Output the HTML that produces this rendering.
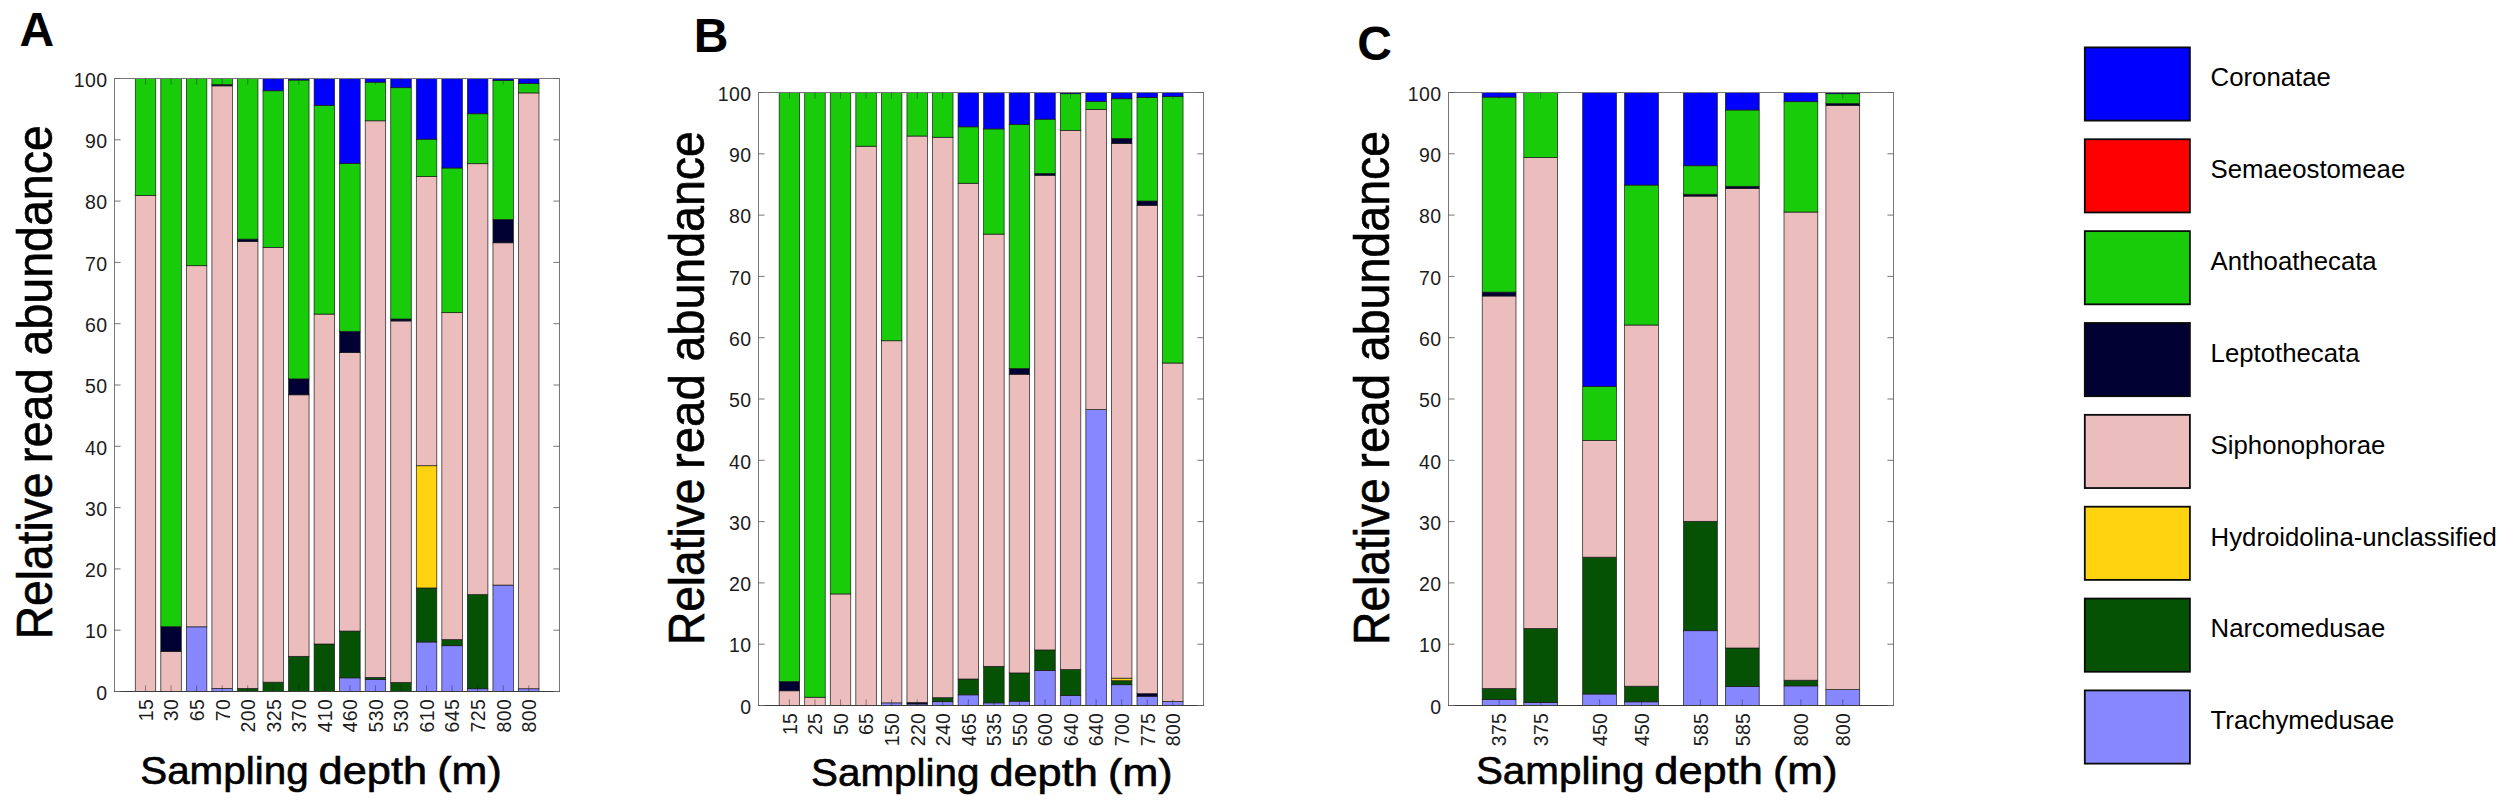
<!DOCTYPE html>
<html lang="en"><head><meta charset="utf-8"><title>Relative read abundance by sampling depth</title>
<style>html,body{margin:0;padding:0;background:#fff}body{width:2500px;height:801px;overflow:hidden}svg{display:block}text{font-family:"Liberation Sans", Arial, Helvetica, sans-serif}</style>
</head><body>
<svg width="2500" height="801" viewBox="0 0 2500 801">
<rect width="2500" height="801" fill="#fff"/>
<g>
<rect x="135.25" y="195.34" width="20.50" height="496.16" fill="#ecbdbd" stroke="#1a1a1a" stroke-width="0.7"/>
<rect x="135.25" y="78.50" width="20.50" height="116.84" fill="#19cc0a" stroke="#1a1a1a" stroke-width="0.7"/>
<rect x="160.80" y="651.41" width="20.50" height="40.09" fill="#ecbdbd" stroke="#1a1a1a" stroke-width="0.7"/>
<rect x="160.80" y="626.71" width="20.50" height="24.70" fill="#000033" stroke="#1a1a1a" stroke-width="0.7"/>
<rect x="160.80" y="78.50" width="20.50" height="548.21" fill="#19cc0a" stroke="#1a1a1a" stroke-width="0.7"/>
<rect x="186.35" y="626.83" width="20.50" height="64.67" fill="#8787ff" stroke="#1a1a1a" stroke-width="0.7"/>
<rect x="186.35" y="265.71" width="20.50" height="361.12" fill="#ecbdbd" stroke="#1a1a1a" stroke-width="0.7"/>
<rect x="186.35" y="78.50" width="20.50" height="187.21" fill="#19cc0a" stroke="#1a1a1a" stroke-width="0.7"/>
<rect x="211.90" y="688.50" width="20.50" height="3.00" fill="#8787ff" stroke="#1a1a1a" stroke-width="0.7"/>
<rect x="211.90" y="85.86" width="20.50" height="602.64" fill="#ecbdbd" stroke="#1a1a1a" stroke-width="0.7"/>
<rect x="211.90" y="84.63" width="20.50" height="1.23" fill="#000033" stroke="#1a1a1a" stroke-width="0.7"/>
<rect x="211.90" y="78.50" width="20.50" height="6.13" fill="#19cc0a" stroke="#1a1a1a" stroke-width="0.7"/>
<rect x="237.45" y="688.43" width="20.50" height="3.06" fill="#055205" stroke="#1a1a1a" stroke-width="0.7"/>
<rect x="237.45" y="241.56" width="20.50" height="446.88" fill="#ecbdbd" stroke="#1a1a1a" stroke-width="0.7"/>
<rect x="237.45" y="239.11" width="20.50" height="2.45" fill="#000033" stroke="#1a1a1a" stroke-width="0.7"/>
<rect x="237.45" y="78.50" width="20.50" height="160.61" fill="#19cc0a" stroke="#1a1a1a" stroke-width="0.7"/>
<rect x="263.00" y="682.18" width="20.50" height="9.32" fill="#055205" stroke="#1a1a1a" stroke-width="0.7"/>
<rect x="263.00" y="247.32" width="20.50" height="434.86" fill="#ecbdbd" stroke="#1a1a1a" stroke-width="0.7"/>
<rect x="263.00" y="90.76" width="20.50" height="156.56" fill="#19cc0a" stroke="#1a1a1a" stroke-width="0.7"/>
<rect x="263.00" y="78.50" width="20.50" height="12.26" fill="#0000ff" stroke="#1a1a1a" stroke-width="0.7"/>
<rect x="288.55" y="656.31" width="20.50" height="35.19" fill="#055205" stroke="#1a1a1a" stroke-width="0.7"/>
<rect x="288.55" y="394.81" width="20.50" height="261.51" fill="#ecbdbd" stroke="#1a1a1a" stroke-width="0.7"/>
<rect x="288.55" y="378.87" width="20.50" height="15.94" fill="#000033" stroke="#1a1a1a" stroke-width="0.7"/>
<rect x="288.55" y="80.03" width="20.50" height="298.84" fill="#19cc0a" stroke="#1a1a1a" stroke-width="0.7"/>
<rect x="288.55" y="78.50" width="20.50" height="1.53" fill="#0000ff" stroke="#1a1a1a" stroke-width="0.7"/>
<rect x="314.10" y="643.99" width="20.50" height="47.51" fill="#055205" stroke="#1a1a1a" stroke-width="0.7"/>
<rect x="314.10" y="314.08" width="20.50" height="329.92" fill="#ecbdbd" stroke="#1a1a1a" stroke-width="0.7"/>
<rect x="314.10" y="105.47" width="20.50" height="208.60" fill="#19cc0a" stroke="#1a1a1a" stroke-width="0.7"/>
<rect x="314.10" y="78.50" width="20.50" height="26.97" fill="#0000ff" stroke="#1a1a1a" stroke-width="0.7"/>
<rect x="339.65" y="677.83" width="20.50" height="13.67" fill="#8787ff" stroke="#1a1a1a" stroke-width="0.7"/>
<rect x="339.65" y="631.06" width="20.50" height="46.77" fill="#055205" stroke="#1a1a1a" stroke-width="0.7"/>
<rect x="339.65" y="352.57" width="20.50" height="278.49" fill="#ecbdbd" stroke="#1a1a1a" stroke-width="0.7"/>
<rect x="339.65" y="331.30" width="20.50" height="21.27" fill="#000033" stroke="#1a1a1a" stroke-width="0.7"/>
<rect x="339.65" y="163.40" width="20.50" height="167.90" fill="#19cc0a" stroke="#1a1a1a" stroke-width="0.7"/>
<rect x="339.65" y="78.50" width="20.50" height="84.90" fill="#0000ff" stroke="#1a1a1a" stroke-width="0.7"/>
<rect x="365.20" y="679.30" width="20.50" height="12.20" fill="#8787ff" stroke="#1a1a1a" stroke-width="0.7"/>
<rect x="365.20" y="677.40" width="20.50" height="1.90" fill="#055205" stroke="#1a1a1a" stroke-width="0.7"/>
<rect x="365.20" y="120.80" width="20.50" height="556.60" fill="#ecbdbd" stroke="#1a1a1a" stroke-width="0.7"/>
<rect x="365.20" y="82.18" width="20.50" height="38.62" fill="#19cc0a" stroke="#1a1a1a" stroke-width="0.7"/>
<rect x="365.20" y="78.50" width="20.50" height="3.68" fill="#0000ff" stroke="#1a1a1a" stroke-width="0.7"/>
<rect x="390.75" y="682.43" width="20.50" height="9.07" fill="#055205" stroke="#1a1a1a" stroke-width="0.7"/>
<rect x="390.75" y="320.94" width="20.50" height="361.49" fill="#ecbdbd" stroke="#1a1a1a" stroke-width="0.7"/>
<rect x="390.75" y="318.98" width="20.50" height="1.96" fill="#000033" stroke="#1a1a1a" stroke-width="0.7"/>
<rect x="390.75" y="87.70" width="20.50" height="231.28" fill="#19cc0a" stroke="#1a1a1a" stroke-width="0.7"/>
<rect x="390.75" y="78.50" width="20.50" height="9.20" fill="#0000ff" stroke="#1a1a1a" stroke-width="0.7"/>
<rect x="416.30" y="641.97" width="20.50" height="49.53" fill="#8787ff" stroke="#1a1a1a" stroke-width="0.7"/>
<rect x="416.30" y="587.96" width="20.50" height="54.01" fill="#055205" stroke="#1a1a1a" stroke-width="0.7"/>
<rect x="416.30" y="465.73" width="20.50" height="122.23" fill="#ffd30f" stroke="#1a1a1a" stroke-width="0.7"/>
<rect x="416.30" y="176.58" width="20.50" height="289.15" fill="#ecbdbd" stroke="#1a1a1a" stroke-width="0.7"/>
<rect x="416.30" y="139.19" width="20.50" height="37.39" fill="#19cc0a" stroke="#1a1a1a" stroke-width="0.7"/>
<rect x="416.30" y="78.50" width="20.50" height="60.69" fill="#0000ff" stroke="#1a1a1a" stroke-width="0.7"/>
<rect x="441.85" y="645.71" width="20.50" height="45.79" fill="#8787ff" stroke="#1a1a1a" stroke-width="0.7"/>
<rect x="441.85" y="639.64" width="20.50" height="6.07" fill="#055205" stroke="#1a1a1a" stroke-width="0.7"/>
<rect x="441.85" y="312.67" width="20.50" height="326.97" fill="#ecbdbd" stroke="#1a1a1a" stroke-width="0.7"/>
<rect x="441.85" y="168.00" width="20.50" height="144.67" fill="#19cc0a" stroke="#1a1a1a" stroke-width="0.7"/>
<rect x="441.85" y="78.50" width="20.50" height="89.50" fill="#0000ff" stroke="#1a1a1a" stroke-width="0.7"/>
<rect x="467.40" y="688.74" width="20.50" height="2.76" fill="#8787ff" stroke="#1a1a1a" stroke-width="0.7"/>
<rect x="467.40" y="594.58" width="20.50" height="94.16" fill="#055205" stroke="#1a1a1a" stroke-width="0.7"/>
<rect x="467.40" y="163.71" width="20.50" height="430.88" fill="#ecbdbd" stroke="#1a1a1a" stroke-width="0.7"/>
<rect x="467.40" y="113.75" width="20.50" height="49.96" fill="#19cc0a" stroke="#1a1a1a" stroke-width="0.7"/>
<rect x="467.40" y="78.50" width="20.50" height="35.25" fill="#0000ff" stroke="#1a1a1a" stroke-width="0.7"/>
<rect x="492.95" y="585.08" width="20.50" height="106.42" fill="#8787ff" stroke="#1a1a1a" stroke-width="0.7"/>
<rect x="492.95" y="242.78" width="20.50" height="342.30" fill="#ecbdbd" stroke="#1a1a1a" stroke-width="0.7"/>
<rect x="492.95" y="219.49" width="20.50" height="23.29" fill="#000033" stroke="#1a1a1a" stroke-width="0.7"/>
<rect x="492.95" y="80.34" width="20.50" height="139.15" fill="#19cc0a" stroke="#1a1a1a" stroke-width="0.7"/>
<rect x="492.95" y="78.50" width="20.50" height="1.84" fill="#0000ff" stroke="#1a1a1a" stroke-width="0.7"/>
<rect x="518.50" y="688.74" width="20.50" height="2.76" fill="#8787ff" stroke="#1a1a1a" stroke-width="0.7"/>
<rect x="518.50" y="92.91" width="20.50" height="595.84" fill="#ecbdbd" stroke="#1a1a1a" stroke-width="0.7"/>
<rect x="518.50" y="83.40" width="20.50" height="9.50" fill="#19cc0a" stroke="#1a1a1a" stroke-width="0.7"/>
<rect x="518.50" y="78.50" width="20.50" height="4.90" fill="#0000ff" stroke="#1a1a1a" stroke-width="0.7"/>
<rect x="114.50" y="78.50" width="445.00" height="613.00" fill="none" stroke="#777" stroke-width="1"/>
<path d="M114.00 691.50H560.00" stroke="#3c3c3c" stroke-width="1.1" fill="none"/>
<path d="M114.50 691.50h6.1M559.50 691.50h-6.1" stroke="#666" stroke-width="0.9" fill="none"/>
<text x="107.60" y="699.70" text-anchor="end" font-size="19.5" letter-spacing="0.4" fill="#1c1c1c">0</text>
<path d="M114.50 630.20h6.1M559.50 630.20h-6.1" stroke="#666" stroke-width="0.9" fill="none"/>
<text x="107.60" y="638.40" text-anchor="end" font-size="19.5" letter-spacing="0.4" fill="#1c1c1c">10</text>
<path d="M114.50 568.90h6.1M559.50 568.90h-6.1" stroke="#666" stroke-width="0.9" fill="none"/>
<text x="107.60" y="577.10" text-anchor="end" font-size="19.5" letter-spacing="0.4" fill="#1c1c1c">20</text>
<path d="M114.50 507.60h6.1M559.50 507.60h-6.1" stroke="#666" stroke-width="0.9" fill="none"/>
<text x="107.60" y="515.80" text-anchor="end" font-size="19.5" letter-spacing="0.4" fill="#1c1c1c">30</text>
<path d="M114.50 446.30h6.1M559.50 446.30h-6.1" stroke="#666" stroke-width="0.9" fill="none"/>
<text x="107.60" y="454.50" text-anchor="end" font-size="19.5" letter-spacing="0.4" fill="#1c1c1c">40</text>
<path d="M114.50 385.00h6.1M559.50 385.00h-6.1" stroke="#666" stroke-width="0.9" fill="none"/>
<text x="107.60" y="393.20" text-anchor="end" font-size="19.5" letter-spacing="0.4" fill="#1c1c1c">50</text>
<path d="M114.50 323.70h6.1M559.50 323.70h-6.1" stroke="#666" stroke-width="0.9" fill="none"/>
<text x="107.60" y="331.90" text-anchor="end" font-size="19.5" letter-spacing="0.4" fill="#1c1c1c">60</text>
<path d="M114.50 262.40h6.1M559.50 262.40h-6.1" stroke="#666" stroke-width="0.9" fill="none"/>
<text x="107.60" y="270.60" text-anchor="end" font-size="19.5" letter-spacing="0.4" fill="#1c1c1c">70</text>
<path d="M114.50 201.10h6.1M559.50 201.10h-6.1" stroke="#666" stroke-width="0.9" fill="none"/>
<text x="107.60" y="209.30" text-anchor="end" font-size="19.5" letter-spacing="0.4" fill="#1c1c1c">80</text>
<path d="M114.50 139.80h6.1M559.50 139.80h-6.1" stroke="#666" stroke-width="0.9" fill="none"/>
<text x="107.60" y="148.00" text-anchor="end" font-size="19.5" letter-spacing="0.4" fill="#1c1c1c">90</text>
<path d="M114.50 78.50h6.1M559.50 78.50h-6.1" stroke="#666" stroke-width="0.9" fill="none"/>
<text x="107.60" y="86.70" text-anchor="end" font-size="19.5" letter-spacing="0.4" fill="#1c1c1c">100</text>
<path d="M145.50 691.50v-6.1M145.50 78.50v6.1" stroke="#222" stroke-width="1" stroke-opacity="0.45" fill="none"/>
<text transform="translate(152.85 698.80) rotate(-90)" text-anchor="end" font-size="19.5" letter-spacing="0.35" fill="#1c1c1c">15</text>
<path d="M171.05 691.50v-6.1M171.05 78.50v6.1" stroke="#222" stroke-width="1" stroke-opacity="0.45" fill="none"/>
<text transform="translate(178.40 698.80) rotate(-90)" text-anchor="end" font-size="19.5" letter-spacing="0.35" fill="#1c1c1c">30</text>
<path d="M196.60 691.50v-6.1M196.60 78.50v6.1" stroke="#222" stroke-width="1" stroke-opacity="0.45" fill="none"/>
<text transform="translate(203.95 698.80) rotate(-90)" text-anchor="end" font-size="19.5" letter-spacing="0.35" fill="#1c1c1c">65</text>
<path d="M222.15 691.50v-6.1M222.15 78.50v6.1" stroke="#222" stroke-width="1" stroke-opacity="0.45" fill="none"/>
<text transform="translate(229.50 698.80) rotate(-90)" text-anchor="end" font-size="19.5" letter-spacing="0.35" fill="#1c1c1c">70</text>
<path d="M247.70 691.50v-6.1M247.70 78.50v6.1" stroke="#222" stroke-width="1" stroke-opacity="0.45" fill="none"/>
<text transform="translate(255.05 698.80) rotate(-90)" text-anchor="end" font-size="19.5" letter-spacing="0.35" fill="#1c1c1c">200</text>
<path d="M273.25 691.50v-6.1M273.25 78.50v6.1" stroke="#222" stroke-width="1" stroke-opacity="0.45" fill="none"/>
<text transform="translate(280.60 698.80) rotate(-90)" text-anchor="end" font-size="19.5" letter-spacing="0.35" fill="#1c1c1c">325</text>
<path d="M298.80 691.50v-6.1M298.80 78.50v6.1" stroke="#222" stroke-width="1" stroke-opacity="0.45" fill="none"/>
<text transform="translate(306.15 698.80) rotate(-90)" text-anchor="end" font-size="19.5" letter-spacing="0.35" fill="#1c1c1c">370</text>
<path d="M324.35 691.50v-6.1M324.35 78.50v6.1" stroke="#222" stroke-width="1" stroke-opacity="0.45" fill="none"/>
<text transform="translate(331.70 698.80) rotate(-90)" text-anchor="end" font-size="19.5" letter-spacing="0.35" fill="#1c1c1c">410</text>
<path d="M349.90 691.50v-6.1M349.90 78.50v6.1" stroke="#222" stroke-width="1" stroke-opacity="0.45" fill="none"/>
<text transform="translate(357.25 698.80) rotate(-90)" text-anchor="end" font-size="19.5" letter-spacing="0.35" fill="#1c1c1c">460</text>
<path d="M375.45 691.50v-6.1M375.45 78.50v6.1" stroke="#222" stroke-width="1" stroke-opacity="0.45" fill="none"/>
<text transform="translate(382.80 698.80) rotate(-90)" text-anchor="end" font-size="19.5" letter-spacing="0.35" fill="#1c1c1c">530</text>
<path d="M401.00 691.50v-6.1M401.00 78.50v6.1" stroke="#222" stroke-width="1" stroke-opacity="0.45" fill="none"/>
<text transform="translate(408.35 698.80) rotate(-90)" text-anchor="end" font-size="19.5" letter-spacing="0.35" fill="#1c1c1c">530</text>
<path d="M426.55 691.50v-6.1M426.55 78.50v6.1" stroke="#222" stroke-width="1" stroke-opacity="0.45" fill="none"/>
<text transform="translate(433.90 698.80) rotate(-90)" text-anchor="end" font-size="19.5" letter-spacing="0.35" fill="#1c1c1c">610</text>
<path d="M452.10 691.50v-6.1M452.10 78.50v6.1" stroke="#222" stroke-width="1" stroke-opacity="0.45" fill="none"/>
<text transform="translate(459.45 698.80) rotate(-90)" text-anchor="end" font-size="19.5" letter-spacing="0.35" fill="#1c1c1c">645</text>
<path d="M477.65 691.50v-6.1M477.65 78.50v6.1" stroke="#222" stroke-width="1" stroke-opacity="0.45" fill="none"/>
<text transform="translate(485.00 698.80) rotate(-90)" text-anchor="end" font-size="19.5" letter-spacing="0.35" fill="#1c1c1c">725</text>
<path d="M503.20 691.50v-6.1M503.20 78.50v6.1" stroke="#222" stroke-width="1" stroke-opacity="0.45" fill="none"/>
<text transform="translate(510.55 698.80) rotate(-90)" text-anchor="end" font-size="19.5" letter-spacing="0.35" fill="#1c1c1c">800</text>
<path d="M528.75 691.50v-6.1M528.75 78.50v6.1" stroke="#222" stroke-width="1" stroke-opacity="0.45" fill="none"/>
<text transform="translate(536.10 698.80) rotate(-90)" text-anchor="end" font-size="19.5" letter-spacing="0.35" fill="#1c1c1c">800</text>
<text x="19.4" y="46.4" font-size="48" font-weight="bold" fill="#000">A</text>
<text transform="translate(51.6 0) rotate(-90)" font-size="49.5" fill="#000" stroke="#000" stroke-width="0.6" xml:space="preserve"><tspan x="-639.2" y="0" textLength="166.6" lengthAdjust="spacingAndGlyphs">Relative</tspan> <tspan x="-463.2" y="0" textLength="95.0" lengthAdjust="spacingAndGlyphs">read</tspan> <tspan x="-355.5" y="0" textLength="230.4" lengthAdjust="spacingAndGlyphs">abundance</tspan></text>
<text font-size="38.5" fill="#000" stroke="#000" stroke-width="0.6" xml:space="preserve"><tspan x="140.2" y="784" textLength="168.5" lengthAdjust="spacingAndGlyphs">Sampling</tspan> <tspan x="318.6" y="784" textLength="108.5" lengthAdjust="spacingAndGlyphs">depth</tspan> <tspan x="437.3" y="784" textLength="64.5" lengthAdjust="spacingAndGlyphs">(m)</tspan></text>
</g>
<g>
<rect x="779.15" y="690.79" width="20.50" height="14.71" fill="#ecbdbd" stroke="#1a1a1a" stroke-width="0.7"/>
<rect x="779.15" y="681.59" width="20.50" height="9.20" fill="#000033" stroke="#1a1a1a" stroke-width="0.7"/>
<rect x="779.15" y="92.50" width="20.50" height="589.09" fill="#19cc0a" stroke="#1a1a1a" stroke-width="0.7"/>
<rect x="804.71" y="697.22" width="20.50" height="8.28" fill="#ecbdbd" stroke="#1a1a1a" stroke-width="0.7"/>
<rect x="804.71" y="92.50" width="20.50" height="604.72" fill="#19cc0a" stroke="#1a1a1a" stroke-width="0.7"/>
<rect x="830.27" y="593.93" width="20.50" height="111.57" fill="#ecbdbd" stroke="#1a1a1a" stroke-width="0.7"/>
<rect x="830.27" y="92.50" width="20.50" height="501.43" fill="#19cc0a" stroke="#1a1a1a" stroke-width="0.7"/>
<rect x="855.83" y="146.20" width="20.50" height="559.30" fill="#ecbdbd" stroke="#1a1a1a" stroke-width="0.7"/>
<rect x="855.83" y="92.50" width="20.50" height="53.70" fill="#19cc0a" stroke="#1a1a1a" stroke-width="0.7"/>
<rect x="881.39" y="702.86" width="20.50" height="2.64" fill="#8787ff" stroke="#1a1a1a" stroke-width="0.7"/>
<rect x="881.39" y="340.76" width="20.50" height="362.10" fill="#ecbdbd" stroke="#1a1a1a" stroke-width="0.7"/>
<rect x="881.39" y="92.50" width="20.50" height="248.26" fill="#19cc0a" stroke="#1a1a1a" stroke-width="0.7"/>
<rect x="906.95" y="703.97" width="20.50" height="1.53" fill="#8787ff" stroke="#1a1a1a" stroke-width="0.7"/>
<rect x="906.95" y="702.43" width="20.50" height="1.53" fill="#000033" stroke="#1a1a1a" stroke-width="0.7"/>
<rect x="906.95" y="136.02" width="20.50" height="566.41" fill="#ecbdbd" stroke="#1a1a1a" stroke-width="0.7"/>
<rect x="906.95" y="92.50" width="20.50" height="43.52" fill="#19cc0a" stroke="#1a1a1a" stroke-width="0.7"/>
<rect x="932.51" y="701.70" width="20.50" height="3.80" fill="#8787ff" stroke="#1a1a1a" stroke-width="0.7"/>
<rect x="932.51" y="697.71" width="20.50" height="3.98" fill="#055205" stroke="#1a1a1a" stroke-width="0.7"/>
<rect x="932.51" y="137.25" width="20.50" height="560.47" fill="#ecbdbd" stroke="#1a1a1a" stroke-width="0.7"/>
<rect x="932.51" y="92.50" width="20.50" height="44.75" fill="#19cc0a" stroke="#1a1a1a" stroke-width="0.7"/>
<rect x="958.07" y="694.83" width="20.50" height="10.67" fill="#8787ff" stroke="#1a1a1a" stroke-width="0.7"/>
<rect x="958.07" y="679.02" width="20.50" height="15.82" fill="#055205" stroke="#1a1a1a" stroke-width="0.7"/>
<rect x="958.07" y="183.22" width="20.50" height="495.79" fill="#ecbdbd" stroke="#1a1a1a" stroke-width="0.7"/>
<rect x="958.07" y="126.83" width="20.50" height="56.40" fill="#19cc0a" stroke="#1a1a1a" stroke-width="0.7"/>
<rect x="958.07" y="92.50" width="20.50" height="34.33" fill="#0000ff" stroke="#1a1a1a" stroke-width="0.7"/>
<rect x="983.63" y="702.86" width="20.50" height="2.64" fill="#8787ff" stroke="#1a1a1a" stroke-width="0.7"/>
<rect x="983.63" y="666.33" width="20.50" height="36.53" fill="#055205" stroke="#1a1a1a" stroke-width="0.7"/>
<rect x="983.63" y="234.10" width="20.50" height="432.23" fill="#ecbdbd" stroke="#1a1a1a" stroke-width="0.7"/>
<rect x="983.63" y="128.91" width="20.50" height="105.19" fill="#19cc0a" stroke="#1a1a1a" stroke-width="0.7"/>
<rect x="983.63" y="92.50" width="20.50" height="36.41" fill="#0000ff" stroke="#1a1a1a" stroke-width="0.7"/>
<rect x="1009.19" y="701.15" width="20.50" height="4.35" fill="#8787ff" stroke="#1a1a1a" stroke-width="0.7"/>
<rect x="1009.19" y="672.95" width="20.50" height="28.20" fill="#055205" stroke="#1a1a1a" stroke-width="0.7"/>
<rect x="1009.19" y="374.23" width="20.50" height="298.71" fill="#ecbdbd" stroke="#1a1a1a" stroke-width="0.7"/>
<rect x="1009.19" y="368.47" width="20.50" height="5.76" fill="#000033" stroke="#1a1a1a" stroke-width="0.7"/>
<rect x="1009.19" y="124.38" width="20.50" height="244.10" fill="#19cc0a" stroke="#1a1a1a" stroke-width="0.7"/>
<rect x="1009.19" y="92.50" width="20.50" height="31.88" fill="#0000ff" stroke="#1a1a1a" stroke-width="0.7"/>
<rect x="1034.75" y="670.38" width="20.50" height="35.12" fill="#8787ff" stroke="#1a1a1a" stroke-width="0.7"/>
<rect x="1034.75" y="649.96" width="20.50" height="20.41" fill="#055205" stroke="#1a1a1a" stroke-width="0.7"/>
<rect x="1034.75" y="175.25" width="20.50" height="474.71" fill="#ecbdbd" stroke="#1a1a1a" stroke-width="0.7"/>
<rect x="1034.75" y="173.42" width="20.50" height="1.84" fill="#000033" stroke="#1a1a1a" stroke-width="0.7"/>
<rect x="1034.75" y="119.17" width="20.50" height="54.25" fill="#19cc0a" stroke="#1a1a1a" stroke-width="0.7"/>
<rect x="1034.75" y="92.50" width="20.50" height="26.67" fill="#0000ff" stroke="#1a1a1a" stroke-width="0.7"/>
<rect x="1060.31" y="695.39" width="20.50" height="10.11" fill="#8787ff" stroke="#1a1a1a" stroke-width="0.7"/>
<rect x="1060.31" y="669.52" width="20.50" height="25.87" fill="#055205" stroke="#1a1a1a" stroke-width="0.7"/>
<rect x="1060.31" y="130.51" width="20.50" height="539.01" fill="#ecbdbd" stroke="#1a1a1a" stroke-width="0.7"/>
<rect x="1060.31" y="93.73" width="20.50" height="36.78" fill="#19cc0a" stroke="#1a1a1a" stroke-width="0.7"/>
<rect x="1060.31" y="92.50" width="20.50" height="1.23" fill="#0000ff" stroke="#1a1a1a" stroke-width="0.7"/>
<rect x="1085.87" y="409.60" width="20.50" height="295.90" fill="#8787ff" stroke="#1a1a1a" stroke-width="0.7"/>
<rect x="1085.87" y="109.42" width="20.50" height="300.19" fill="#ecbdbd" stroke="#1a1a1a" stroke-width="0.7"/>
<rect x="1085.87" y="101.39" width="20.50" height="8.03" fill="#19cc0a" stroke="#1a1a1a" stroke-width="0.7"/>
<rect x="1085.87" y="92.50" width="20.50" height="8.89" fill="#0000ff" stroke="#1a1a1a" stroke-width="0.7"/>
<rect x="1111.43" y="684.72" width="20.50" height="20.78" fill="#8787ff" stroke="#1a1a1a" stroke-width="0.7"/>
<rect x="1111.43" y="680.73" width="20.50" height="3.98" fill="#055205" stroke="#1a1a1a" stroke-width="0.7"/>
<rect x="1111.43" y="678.16" width="20.50" height="2.57" fill="#ffd30f" stroke="#1a1a1a" stroke-width="0.7"/>
<rect x="1111.43" y="143.38" width="20.50" height="534.78" fill="#ecbdbd" stroke="#1a1a1a" stroke-width="0.7"/>
<rect x="1111.43" y="138.48" width="20.50" height="4.90" fill="#000033" stroke="#1a1a1a" stroke-width="0.7"/>
<rect x="1111.43" y="98.75" width="20.50" height="39.72" fill="#19cc0a" stroke="#1a1a1a" stroke-width="0.7"/>
<rect x="1111.43" y="92.50" width="20.50" height="6.25" fill="#0000ff" stroke="#1a1a1a" stroke-width="0.7"/>
<rect x="1136.99" y="696.24" width="20.50" height="9.26" fill="#8787ff" stroke="#1a1a1a" stroke-width="0.7"/>
<rect x="1136.99" y="693.67" width="20.50" height="2.57" fill="#000033" stroke="#1a1a1a" stroke-width="0.7"/>
<rect x="1136.99" y="205.29" width="20.50" height="488.38" fill="#ecbdbd" stroke="#1a1a1a" stroke-width="0.7"/>
<rect x="1136.99" y="201.00" width="20.50" height="4.29" fill="#000033" stroke="#1a1a1a" stroke-width="0.7"/>
<rect x="1136.99" y="97.40" width="20.50" height="103.60" fill="#19cc0a" stroke="#1a1a1a" stroke-width="0.7"/>
<rect x="1136.99" y="92.50" width="20.50" height="4.90" fill="#0000ff" stroke="#1a1a1a" stroke-width="0.7"/>
<rect x="1162.55" y="701.39" width="20.50" height="4.11" fill="#8787ff" stroke="#1a1a1a" stroke-width="0.7"/>
<rect x="1162.55" y="363.02" width="20.50" height="338.38" fill="#ecbdbd" stroke="#1a1a1a" stroke-width="0.7"/>
<rect x="1162.55" y="96.48" width="20.50" height="266.53" fill="#19cc0a" stroke="#1a1a1a" stroke-width="0.7"/>
<rect x="1162.55" y="92.50" width="20.50" height="3.98" fill="#0000ff" stroke="#1a1a1a" stroke-width="0.7"/>
<rect x="758.50" y="92.50" width="445.00" height="613.00" fill="none" stroke="#777" stroke-width="1"/>
<path d="M758.00 705.50H1204.00" stroke="#3c3c3c" stroke-width="1.1" fill="none"/>
<path d="M758.50 705.50h6.1M1203.50 705.50h-6.1" stroke="#666" stroke-width="0.9" fill="none"/>
<text x="751.60" y="713.70" text-anchor="end" font-size="19.5" letter-spacing="0.4" fill="#1c1c1c">0</text>
<path d="M758.50 644.20h6.1M1203.50 644.20h-6.1" stroke="#666" stroke-width="0.9" fill="none"/>
<text x="751.60" y="652.40" text-anchor="end" font-size="19.5" letter-spacing="0.4" fill="#1c1c1c">10</text>
<path d="M758.50 582.90h6.1M1203.50 582.90h-6.1" stroke="#666" stroke-width="0.9" fill="none"/>
<text x="751.60" y="591.10" text-anchor="end" font-size="19.5" letter-spacing="0.4" fill="#1c1c1c">20</text>
<path d="M758.50 521.60h6.1M1203.50 521.60h-6.1" stroke="#666" stroke-width="0.9" fill="none"/>
<text x="751.60" y="529.80" text-anchor="end" font-size="19.5" letter-spacing="0.4" fill="#1c1c1c">30</text>
<path d="M758.50 460.30h6.1M1203.50 460.30h-6.1" stroke="#666" stroke-width="0.9" fill="none"/>
<text x="751.60" y="468.50" text-anchor="end" font-size="19.5" letter-spacing="0.4" fill="#1c1c1c">40</text>
<path d="M758.50 399.00h6.1M1203.50 399.00h-6.1" stroke="#666" stroke-width="0.9" fill="none"/>
<text x="751.60" y="407.20" text-anchor="end" font-size="19.5" letter-spacing="0.4" fill="#1c1c1c">50</text>
<path d="M758.50 337.70h6.1M1203.50 337.70h-6.1" stroke="#666" stroke-width="0.9" fill="none"/>
<text x="751.60" y="345.90" text-anchor="end" font-size="19.5" letter-spacing="0.4" fill="#1c1c1c">60</text>
<path d="M758.50 276.40h6.1M1203.50 276.40h-6.1" stroke="#666" stroke-width="0.9" fill="none"/>
<text x="751.60" y="284.60" text-anchor="end" font-size="19.5" letter-spacing="0.4" fill="#1c1c1c">70</text>
<path d="M758.50 215.10h6.1M1203.50 215.10h-6.1" stroke="#666" stroke-width="0.9" fill="none"/>
<text x="751.60" y="223.30" text-anchor="end" font-size="19.5" letter-spacing="0.4" fill="#1c1c1c">80</text>
<path d="M758.50 153.80h6.1M1203.50 153.80h-6.1" stroke="#666" stroke-width="0.9" fill="none"/>
<text x="751.60" y="162.00" text-anchor="end" font-size="19.5" letter-spacing="0.4" fill="#1c1c1c">90</text>
<path d="M758.50 92.50h6.1M1203.50 92.50h-6.1" stroke="#666" stroke-width="0.9" fill="none"/>
<text x="751.60" y="100.70" text-anchor="end" font-size="19.5" letter-spacing="0.4" fill="#1c1c1c">100</text>
<path d="M789.40 705.50v-6.1M789.40 92.50v6.1" stroke="#222" stroke-width="1" stroke-opacity="0.45" fill="none"/>
<text transform="translate(796.75 712.70) rotate(-90)" text-anchor="end" font-size="19.5" letter-spacing="0.35" fill="#1c1c1c">15</text>
<path d="M814.96 705.50v-6.1M814.96 92.50v6.1" stroke="#222" stroke-width="1" stroke-opacity="0.45" fill="none"/>
<text transform="translate(822.31 712.70) rotate(-90)" text-anchor="end" font-size="19.5" letter-spacing="0.35" fill="#1c1c1c">25</text>
<path d="M840.52 705.50v-6.1M840.52 92.50v6.1" stroke="#222" stroke-width="1" stroke-opacity="0.45" fill="none"/>
<text transform="translate(847.87 712.70) rotate(-90)" text-anchor="end" font-size="19.5" letter-spacing="0.35" fill="#1c1c1c">50</text>
<path d="M866.08 705.50v-6.1M866.08 92.50v6.1" stroke="#222" stroke-width="1" stroke-opacity="0.45" fill="none"/>
<text transform="translate(873.43 712.70) rotate(-90)" text-anchor="end" font-size="19.5" letter-spacing="0.35" fill="#1c1c1c">65</text>
<path d="M891.64 705.50v-6.1M891.64 92.50v6.1" stroke="#222" stroke-width="1" stroke-opacity="0.45" fill="none"/>
<text transform="translate(898.99 712.70) rotate(-90)" text-anchor="end" font-size="19.5" letter-spacing="0.35" fill="#1c1c1c">150</text>
<path d="M917.20 705.50v-6.1M917.20 92.50v6.1" stroke="#222" stroke-width="1" stroke-opacity="0.45" fill="none"/>
<text transform="translate(924.55 712.70) rotate(-90)" text-anchor="end" font-size="19.5" letter-spacing="0.35" fill="#1c1c1c">220</text>
<path d="M942.76 705.50v-6.1M942.76 92.50v6.1" stroke="#222" stroke-width="1" stroke-opacity="0.45" fill="none"/>
<text transform="translate(950.11 712.70) rotate(-90)" text-anchor="end" font-size="19.5" letter-spacing="0.35" fill="#1c1c1c">240</text>
<path d="M968.32 705.50v-6.1M968.32 92.50v6.1" stroke="#222" stroke-width="1" stroke-opacity="0.45" fill="none"/>
<text transform="translate(975.67 712.70) rotate(-90)" text-anchor="end" font-size="19.5" letter-spacing="0.35" fill="#1c1c1c">465</text>
<path d="M993.88 705.50v-6.1M993.88 92.50v6.1" stroke="#222" stroke-width="1" stroke-opacity="0.45" fill="none"/>
<text transform="translate(1001.23 712.70) rotate(-90)" text-anchor="end" font-size="19.5" letter-spacing="0.35" fill="#1c1c1c">535</text>
<path d="M1019.44 705.50v-6.1M1019.44 92.50v6.1" stroke="#222" stroke-width="1" stroke-opacity="0.45" fill="none"/>
<text transform="translate(1026.79 712.70) rotate(-90)" text-anchor="end" font-size="19.5" letter-spacing="0.35" fill="#1c1c1c">550</text>
<path d="M1045.00 705.50v-6.1M1045.00 92.50v6.1" stroke="#222" stroke-width="1" stroke-opacity="0.45" fill="none"/>
<text transform="translate(1052.35 712.70) rotate(-90)" text-anchor="end" font-size="19.5" letter-spacing="0.35" fill="#1c1c1c">600</text>
<path d="M1070.56 705.50v-6.1M1070.56 92.50v6.1" stroke="#222" stroke-width="1" stroke-opacity="0.45" fill="none"/>
<text transform="translate(1077.91 712.70) rotate(-90)" text-anchor="end" font-size="19.5" letter-spacing="0.35" fill="#1c1c1c">640</text>
<path d="M1096.12 705.50v-6.1M1096.12 92.50v6.1" stroke="#222" stroke-width="1" stroke-opacity="0.45" fill="none"/>
<text transform="translate(1103.47 712.70) rotate(-90)" text-anchor="end" font-size="19.5" letter-spacing="0.35" fill="#1c1c1c">640</text>
<path d="M1121.68 705.50v-6.1M1121.68 92.50v6.1" stroke="#222" stroke-width="1" stroke-opacity="0.45" fill="none"/>
<text transform="translate(1129.03 712.70) rotate(-90)" text-anchor="end" font-size="19.5" letter-spacing="0.35" fill="#1c1c1c">700</text>
<path d="M1147.24 705.50v-6.1M1147.24 92.50v6.1" stroke="#222" stroke-width="1" stroke-opacity="0.45" fill="none"/>
<text transform="translate(1154.59 712.70) rotate(-90)" text-anchor="end" font-size="19.5" letter-spacing="0.35" fill="#1c1c1c">775</text>
<path d="M1172.80 705.50v-6.1M1172.80 92.50v6.1" stroke="#222" stroke-width="1" stroke-opacity="0.45" fill="none"/>
<text transform="translate(1180.15 712.70) rotate(-90)" text-anchor="end" font-size="19.5" letter-spacing="0.35" fill="#1c1c1c">800</text>
<text x="693.8" y="51.8" font-size="48" font-weight="bold" fill="#000">B</text>
<text transform="translate(703.6 0) rotate(-90)" font-size="49.5" fill="#000" stroke="#000" stroke-width="0.6" xml:space="preserve"><tspan x="-645.1" y="0" textLength="166.6" lengthAdjust="spacingAndGlyphs">Relative</tspan> <tspan x="-469.1" y="0" textLength="95.0" lengthAdjust="spacingAndGlyphs">read</tspan> <tspan x="-361.4" y="0" textLength="230.4" lengthAdjust="spacingAndGlyphs">abundance</tspan></text>
<text font-size="38.5" fill="#000" stroke="#000" stroke-width="0.6" xml:space="preserve"><tspan x="811.0" y="785.6" textLength="168.5" lengthAdjust="spacingAndGlyphs">Sampling</tspan> <tspan x="989.4" y="785.6" textLength="108.5" lengthAdjust="spacingAndGlyphs">depth</tspan> <tspan x="1108.1" y="785.6" textLength="64.5" lengthAdjust="spacingAndGlyphs">(m)</tspan></text>
</g>
<g>
<rect x="1482.20" y="699.37" width="33.80" height="6.13" fill="#8787ff" stroke="#1a1a1a" stroke-width="0.7"/>
<rect x="1482.20" y="688.52" width="33.80" height="10.85" fill="#055205" stroke="#1a1a1a" stroke-width="0.7"/>
<rect x="1482.20" y="296.02" width="33.80" height="392.50" fill="#ecbdbd" stroke="#1a1a1a" stroke-width="0.7"/>
<rect x="1482.20" y="292.09" width="33.80" height="3.92" fill="#000033" stroke="#1a1a1a" stroke-width="0.7"/>
<rect x="1482.20" y="97.10" width="33.80" height="195.00" fill="#19cc0a" stroke="#1a1a1a" stroke-width="0.7"/>
<rect x="1482.20" y="92.50" width="33.80" height="4.60" fill="#0000ff" stroke="#1a1a1a" stroke-width="0.7"/>
<rect x="1523.80" y="702.43" width="33.80" height="3.06" fill="#8787ff" stroke="#1a1a1a" stroke-width="0.7"/>
<rect x="1523.80" y="628.45" width="33.80" height="73.99" fill="#055205" stroke="#1a1a1a" stroke-width="0.7"/>
<rect x="1523.80" y="157.48" width="33.80" height="470.97" fill="#ecbdbd" stroke="#1a1a1a" stroke-width="0.7"/>
<rect x="1523.80" y="92.50" width="33.80" height="64.98" fill="#19cc0a" stroke="#1a1a1a" stroke-width="0.7"/>
<rect x="1582.70" y="693.98" width="33.80" height="11.52" fill="#8787ff" stroke="#1a1a1a" stroke-width="0.7"/>
<rect x="1582.70" y="557.15" width="33.80" height="136.82" fill="#055205" stroke="#1a1a1a" stroke-width="0.7"/>
<rect x="1582.70" y="440.44" width="33.80" height="116.72" fill="#ecbdbd" stroke="#1a1a1a" stroke-width="0.7"/>
<rect x="1582.70" y="386.49" width="33.80" height="53.94" fill="#19cc0a" stroke="#1a1a1a" stroke-width="0.7"/>
<rect x="1582.70" y="92.50" width="33.80" height="293.99" fill="#0000ff" stroke="#1a1a1a" stroke-width="0.7"/>
<rect x="1624.60" y="701.82" width="33.80" height="3.68" fill="#8787ff" stroke="#1a1a1a" stroke-width="0.7"/>
<rect x="1624.60" y="686.19" width="33.80" height="15.63" fill="#055205" stroke="#1a1a1a" stroke-width="0.7"/>
<rect x="1624.60" y="325.01" width="33.80" height="361.18" fill="#ecbdbd" stroke="#1a1a1a" stroke-width="0.7"/>
<rect x="1624.60" y="185.06" width="33.80" height="139.95" fill="#19cc0a" stroke="#1a1a1a" stroke-width="0.7"/>
<rect x="1624.60" y="92.50" width="33.80" height="92.56" fill="#0000ff" stroke="#1a1a1a" stroke-width="0.7"/>
<rect x="1683.50" y="630.71" width="33.80" height="74.79" fill="#8787ff" stroke="#1a1a1a" stroke-width="0.7"/>
<rect x="1683.50" y="521.29" width="33.80" height="109.42" fill="#055205" stroke="#1a1a1a" stroke-width="0.7"/>
<rect x="1683.50" y="196.10" width="33.80" height="325.20" fill="#ecbdbd" stroke="#1a1a1a" stroke-width="0.7"/>
<rect x="1683.50" y="194.26" width="33.80" height="1.84" fill="#000033" stroke="#1a1a1a" stroke-width="0.7"/>
<rect x="1683.50" y="165.75" width="33.80" height="28.50" fill="#19cc0a" stroke="#1a1a1a" stroke-width="0.7"/>
<rect x="1683.50" y="92.50" width="33.80" height="73.25" fill="#0000ff" stroke="#1a1a1a" stroke-width="0.7"/>
<rect x="1725.40" y="686.50" width="33.80" height="19.00" fill="#8787ff" stroke="#1a1a1a" stroke-width="0.7"/>
<rect x="1725.40" y="648.00" width="33.80" height="38.50" fill="#055205" stroke="#1a1a1a" stroke-width="0.7"/>
<rect x="1725.40" y="188.43" width="33.80" height="459.57" fill="#ecbdbd" stroke="#1a1a1a" stroke-width="0.7"/>
<rect x="1725.40" y="186.29" width="33.80" height="2.15" fill="#000033" stroke="#1a1a1a" stroke-width="0.7"/>
<rect x="1725.40" y="109.97" width="33.80" height="76.32" fill="#19cc0a" stroke="#1a1a1a" stroke-width="0.7"/>
<rect x="1725.40" y="92.50" width="33.80" height="17.47" fill="#0000ff" stroke="#1a1a1a" stroke-width="0.7"/>
<rect x="1784.00" y="685.88" width="33.80" height="19.62" fill="#8787ff" stroke="#1a1a1a" stroke-width="0.7"/>
<rect x="1784.00" y="680.18" width="33.80" height="5.70" fill="#055205" stroke="#1a1a1a" stroke-width="0.7"/>
<rect x="1784.00" y="212.04" width="33.80" height="468.15" fill="#ecbdbd" stroke="#1a1a1a" stroke-width="0.7"/>
<rect x="1784.00" y="101.70" width="33.80" height="110.34" fill="#19cc0a" stroke="#1a1a1a" stroke-width="0.7"/>
<rect x="1784.00" y="92.50" width="33.80" height="9.20" fill="#0000ff" stroke="#1a1a1a" stroke-width="0.7"/>
<rect x="1825.90" y="689.62" width="33.80" height="15.88" fill="#8787ff" stroke="#1a1a1a" stroke-width="0.7"/>
<rect x="1825.90" y="105.37" width="33.80" height="584.25" fill="#ecbdbd" stroke="#1a1a1a" stroke-width="0.7"/>
<rect x="1825.90" y="103.53" width="33.80" height="1.84" fill="#000033" stroke="#1a1a1a" stroke-width="0.7"/>
<rect x="1825.90" y="93.73" width="33.80" height="9.81" fill="#19cc0a" stroke="#1a1a1a" stroke-width="0.7"/>
<rect x="1825.90" y="92.50" width="33.80" height="1.23" fill="#0000ff" stroke="#1a1a1a" stroke-width="0.7"/>
<rect x="1448.50" y="92.50" width="445.00" height="613.00" fill="none" stroke="#777" stroke-width="1"/>
<path d="M1448.00 705.50H1894.00" stroke="#3c3c3c" stroke-width="1.1" fill="none"/>
<path d="M1448.50 705.50h6.1M1893.50 705.50h-6.1" stroke="#666" stroke-width="0.9" fill="none"/>
<text x="1441.60" y="713.70" text-anchor="end" font-size="19.5" letter-spacing="0.4" fill="#1c1c1c">0</text>
<path d="M1448.50 644.20h6.1M1893.50 644.20h-6.1" stroke="#666" stroke-width="0.9" fill="none"/>
<text x="1441.60" y="652.40" text-anchor="end" font-size="19.5" letter-spacing="0.4" fill="#1c1c1c">10</text>
<path d="M1448.50 582.90h6.1M1893.50 582.90h-6.1" stroke="#666" stroke-width="0.9" fill="none"/>
<text x="1441.60" y="591.10" text-anchor="end" font-size="19.5" letter-spacing="0.4" fill="#1c1c1c">20</text>
<path d="M1448.50 521.60h6.1M1893.50 521.60h-6.1" stroke="#666" stroke-width="0.9" fill="none"/>
<text x="1441.60" y="529.80" text-anchor="end" font-size="19.5" letter-spacing="0.4" fill="#1c1c1c">30</text>
<path d="M1448.50 460.30h6.1M1893.50 460.30h-6.1" stroke="#666" stroke-width="0.9" fill="none"/>
<text x="1441.60" y="468.50" text-anchor="end" font-size="19.5" letter-spacing="0.4" fill="#1c1c1c">40</text>
<path d="M1448.50 399.00h6.1M1893.50 399.00h-6.1" stroke="#666" stroke-width="0.9" fill="none"/>
<text x="1441.60" y="407.20" text-anchor="end" font-size="19.5" letter-spacing="0.4" fill="#1c1c1c">50</text>
<path d="M1448.50 337.70h6.1M1893.50 337.70h-6.1" stroke="#666" stroke-width="0.9" fill="none"/>
<text x="1441.60" y="345.90" text-anchor="end" font-size="19.5" letter-spacing="0.4" fill="#1c1c1c">60</text>
<path d="M1448.50 276.40h6.1M1893.50 276.40h-6.1" stroke="#666" stroke-width="0.9" fill="none"/>
<text x="1441.60" y="284.60" text-anchor="end" font-size="19.5" letter-spacing="0.4" fill="#1c1c1c">70</text>
<path d="M1448.50 215.10h6.1M1893.50 215.10h-6.1" stroke="#666" stroke-width="0.9" fill="none"/>
<text x="1441.60" y="223.30" text-anchor="end" font-size="19.5" letter-spacing="0.4" fill="#1c1c1c">80</text>
<path d="M1448.50 153.80h6.1M1893.50 153.80h-6.1" stroke="#666" stroke-width="0.9" fill="none"/>
<text x="1441.60" y="162.00" text-anchor="end" font-size="19.5" letter-spacing="0.4" fill="#1c1c1c">90</text>
<path d="M1448.50 92.50h6.1M1893.50 92.50h-6.1" stroke="#666" stroke-width="0.9" fill="none"/>
<text x="1441.60" y="100.70" text-anchor="end" font-size="19.5" letter-spacing="0.4" fill="#1c1c1c">100</text>
<path d="M1499.10 705.50v-6.1M1499.10 92.50v6.1" stroke="#222" stroke-width="1" stroke-opacity="0.45" fill="none"/>
<text transform="translate(1506.45 712.70) rotate(-90)" text-anchor="end" font-size="19.5" letter-spacing="0.35" fill="#1c1c1c">375</text>
<path d="M1540.70 705.50v-6.1M1540.70 92.50v6.1" stroke="#222" stroke-width="1" stroke-opacity="0.45" fill="none"/>
<text transform="translate(1548.05 712.70) rotate(-90)" text-anchor="end" font-size="19.5" letter-spacing="0.35" fill="#1c1c1c">375</text>
<path d="M1599.60 705.50v-6.1M1599.60 92.50v6.1" stroke="#222" stroke-width="1" stroke-opacity="0.45" fill="none"/>
<text transform="translate(1606.95 712.70) rotate(-90)" text-anchor="end" font-size="19.5" letter-spacing="0.35" fill="#1c1c1c">450</text>
<path d="M1641.50 705.50v-6.1M1641.50 92.50v6.1" stroke="#222" stroke-width="1" stroke-opacity="0.45" fill="none"/>
<text transform="translate(1648.85 712.70) rotate(-90)" text-anchor="end" font-size="19.5" letter-spacing="0.35" fill="#1c1c1c">450</text>
<path d="M1700.40 705.50v-6.1M1700.40 92.50v6.1" stroke="#222" stroke-width="1" stroke-opacity="0.45" fill="none"/>
<text transform="translate(1707.75 712.70) rotate(-90)" text-anchor="end" font-size="19.5" letter-spacing="0.35" fill="#1c1c1c">585</text>
<path d="M1742.30 705.50v-6.1M1742.30 92.50v6.1" stroke="#222" stroke-width="1" stroke-opacity="0.45" fill="none"/>
<text transform="translate(1749.65 712.70) rotate(-90)" text-anchor="end" font-size="19.5" letter-spacing="0.35" fill="#1c1c1c">585</text>
<path d="M1800.90 705.50v-6.1M1800.90 92.50v6.1" stroke="#222" stroke-width="1" stroke-opacity="0.45" fill="none"/>
<text transform="translate(1808.25 712.70) rotate(-90)" text-anchor="end" font-size="19.5" letter-spacing="0.35" fill="#1c1c1c">800</text>
<path d="M1842.80 705.50v-6.1M1842.80 92.50v6.1" stroke="#222" stroke-width="1" stroke-opacity="0.45" fill="none"/>
<text transform="translate(1850.15 712.70) rotate(-90)" text-anchor="end" font-size="19.5" letter-spacing="0.35" fill="#1c1c1c">800</text>
<text x="1357.2" y="59.7" font-size="48" font-weight="bold" fill="#000">C</text>
<text transform="translate(1389.4 0) rotate(-90)" font-size="49.5" fill="#000" stroke="#000" stroke-width="0.6" xml:space="preserve"><tspan x="-644.9" y="0" textLength="166.6" lengthAdjust="spacingAndGlyphs">Relative</tspan> <tspan x="-468.9" y="0" textLength="95.0" lengthAdjust="spacingAndGlyphs">read</tspan> <tspan x="-361.2" y="0" textLength="230.4" lengthAdjust="spacingAndGlyphs">abundance</tspan></text>
<text font-size="38.5" fill="#000" stroke="#000" stroke-width="0.6" xml:space="preserve"><tspan x="1475.9" y="784" textLength="168.5" lengthAdjust="spacingAndGlyphs">Sampling</tspan> <tspan x="1654.3" y="784" textLength="108.5" lengthAdjust="spacingAndGlyphs">depth</tspan> <tspan x="1773.0" y="784" textLength="64.5" lengthAdjust="spacingAndGlyphs">(m)</tspan></text>
</g>
<rect x="2084.8" y="47.40" width="105.1" height="73.2" fill="#0000ff" stroke="#0a0a0a" stroke-width="1.8"/>
<text x="2210.6" y="86.30" font-size="25.75" fill="#000">Coronatae</text>
<rect x="2084.8" y="139.26" width="105.1" height="73.2" fill="#ff0000" stroke="#0a0a0a" stroke-width="1.8"/>
<text x="2210.6" y="178.16" font-size="25.75" fill="#000">Semaeostomeae</text>
<rect x="2084.8" y="231.12" width="105.1" height="73.2" fill="#19cc0a" stroke="#0a0a0a" stroke-width="1.8"/>
<text x="2210.6" y="270.02" font-size="25.75" fill="#000">Anthoathecata</text>
<rect x="2084.8" y="322.98" width="105.1" height="73.2" fill="#000033" stroke="#0a0a0a" stroke-width="1.8"/>
<text x="2210.6" y="361.88" font-size="25.75" fill="#000">Leptothecata</text>
<rect x="2084.8" y="414.84" width="105.1" height="73.2" fill="#ecbdbd" stroke="#0a0a0a" stroke-width="1.8"/>
<text x="2210.6" y="453.74" font-size="25.75" fill="#000">Siphonophorae</text>
<rect x="2084.8" y="506.70" width="105.1" height="73.2" fill="#ffd30f" stroke="#0a0a0a" stroke-width="1.8"/>
<text x="2210.6" y="545.60" font-size="25.75" fill="#000">Hydroidolina-unclassified</text>
<rect x="2084.8" y="598.56" width="105.1" height="73.2" fill="#055205" stroke="#0a0a0a" stroke-width="1.8"/>
<text x="2210.6" y="637.46" font-size="25.75" fill="#000">Narcomedusae</text>
<rect x="2084.8" y="690.42" width="105.1" height="73.2" fill="#8787ff" stroke="#0a0a0a" stroke-width="1.8"/>
<text x="2210.6" y="729.32" font-size="25.75" fill="#000">Trachymedusae</text>
</svg>
</body></html>
